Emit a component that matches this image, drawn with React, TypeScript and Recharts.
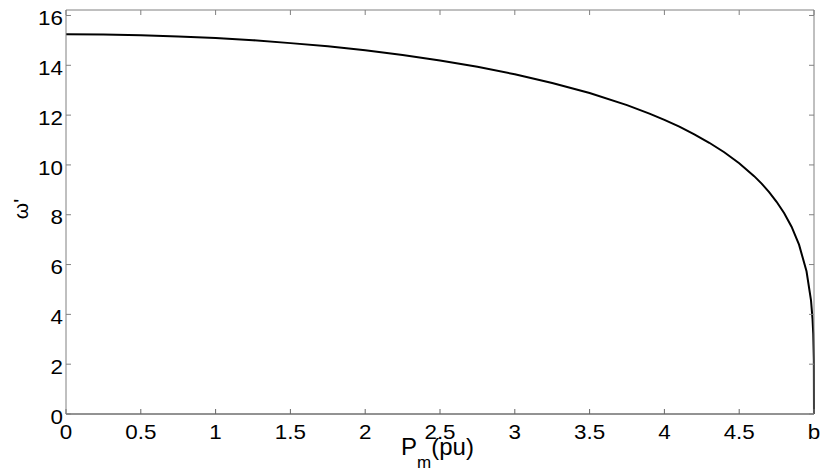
import React from 'react';
import { LineChart, Line, XAxis, YAxis, Customized } from 'recharts';

const pmValues = [0, 0.25, 0.5, 0.75, 1, 1.25, 1.5, 1.75, 2, 2.25, 2.5, 2.75, 3, 3.25, 3.5, 3.75, 3.9, 4, 4.1, 4.2, 4.3, 4.4, 4.5, 4.6, 4.65, 4.7, 4.75, 4.8, 4.85, 4.9, 4.95, 4.98, 4.99, 4.995, 4.999, 5];
const omegaValues = [15.25, 15.24, 15.21, 15.16, 15.1, 15.01, 14.89, 14.76, 14.6, 14.41, 14.19, 13.94, 13.64, 13.29, 12.89, 12.4, 12.06, 11.81, 11.54, 11.23, 10.89, 10.51, 10.07, 9.55, 9.25, 8.91, 8.52, 8.07, 7.52, 6.8, 5.73, 4.56, 3.83, 3.22, 2.16, 0];
const xTicks = [0, 0.5, 1, 1.5, 2, 2.5, 3, 3.5, 4, 4.5, 5];
const xTickLabels = ['0', '0.5', '1', '1.5', '2', '2.5', '3', '3.5', '4', '4.5', 'b'];
const yTicks = [0, 2, 4, 6, 8, 10, 12, 14, 16];

const data = pmValues.map((p, i) => ({ pm: p, omega: omegaValues[i] }));

const FONT = '"Liberation Sans", Arial, Helvetica, sans-serif';

const XTick = (props: any) => {
  const { x, y, payload } = props;
  const idx = xTicks.indexOf(payload.value);
  const label = idx >= 0 ? xTickLabels[idx] : String(payload.value);
  return (
    <text transform={`translate(${x},${y}) scale(1.12,1)`} textAnchor="middle" dy="0.71em" fontSize={20} fontFamily={FONT} fill="#000">
      {label}
    </text>
  );
};

const YTick = (props: any) => {
  const { x, y, payload } = props;
  return (
    <text transform={`translate(${x},${y + 2.5}) scale(1.12,1)`} textAnchor="end" dy="0.355em" fontSize={20} fontFamily={FONT} fill="#000">
      {String(payload.value)}
    </text>
  );
};

const Empty = () => <g />;

const Labels = () => (
  <g>
    <text x={401} y={455} fontSize={24} fontFamily={FONT} fill="#000">
      P
      <tspan dy={13} fontSize={17}>m</tspan>
      <tspan dy={-13} fontSize={24}>(pu)</tspan>
    </text>
    <text transform="translate(28,209) rotate(-90)" textAnchor="middle" fontSize={21} fontFamily={FONT} fill="#000">
      ω'
    </text>
  </g>
);

export default function App() {
  return (
    <div style={{ position: 'absolute', left: 0, top: 0, background: '#fff' }}>
      <LineChart width={830} height={474} data={data} margin={{ top: 9, right: 15, bottom: 30, left: 26 }}>
        <XAxis
          xAxisId="b"
          dataKey="pm"
          type="number"
          domain={[0, 5]}
          ticks={xTicks}
          height={30}
          tickSize={-5}
          tickMargin={16}
          tick={<XTick />}
          axisLine={{ stroke: '#262626', strokeWidth: 1 }}
          tickLine={{ stroke: '#666', strokeWidth: 1 }}
          interval={0}
        />
        <XAxis
          xAxisId="t"
          orientation="top"
          dataKey="pm"
          type="number"
          domain={[0, 5]}
          ticks={xTicks}
          height={1}
          tickSize={-5}
          tick={<Empty />}
          axisLine={{ stroke: '#808080', strokeWidth: 1 }}
          tickLine={{ stroke: '#808080' }}
          interval={0}
        />
        <YAxis
          yAxisId="l"
          type="number"
          domain={[0, 16.22]}
          ticks={yTicks}
          width={40}
          tickSize={-5}
          tickMargin={8}
          tick={<YTick />}
          axisLine={{ stroke: '#808080', strokeWidth: 1 }}
          tickLine={{ stroke: '#808080' }}
          interval={0}
          allowDataOverflow
        />
        <YAxis
          yAxisId="r"
          orientation="right"
          type="number"
          domain={[0, 16.22]}
          ticks={yTicks}
          width={1}
          tickSize={-5}
          tick={<Empty />}
          axisLine={{ stroke: '#808080', strokeWidth: 1 }}
          tickLine={{ stroke: '#808080' }}
          interval={0}
          allowDataOverflow
        />
        <Line
          xAxisId="t"
          yAxisId="r"
          type="linear"
          dataKey="omega"
          stroke="none"
          dot={false}
          activeDot={false}
          isAnimationActive={false}
        />
        <Line
          xAxisId="b"
          yAxisId="l"
          type="linear"
          dataKey="omega"
          stroke="#000"
          strokeWidth={2}
          dot={false}
          isAnimationActive={false}
        />
        <Customized component={Labels} />
      </LineChart>
    </div>
  );
}
